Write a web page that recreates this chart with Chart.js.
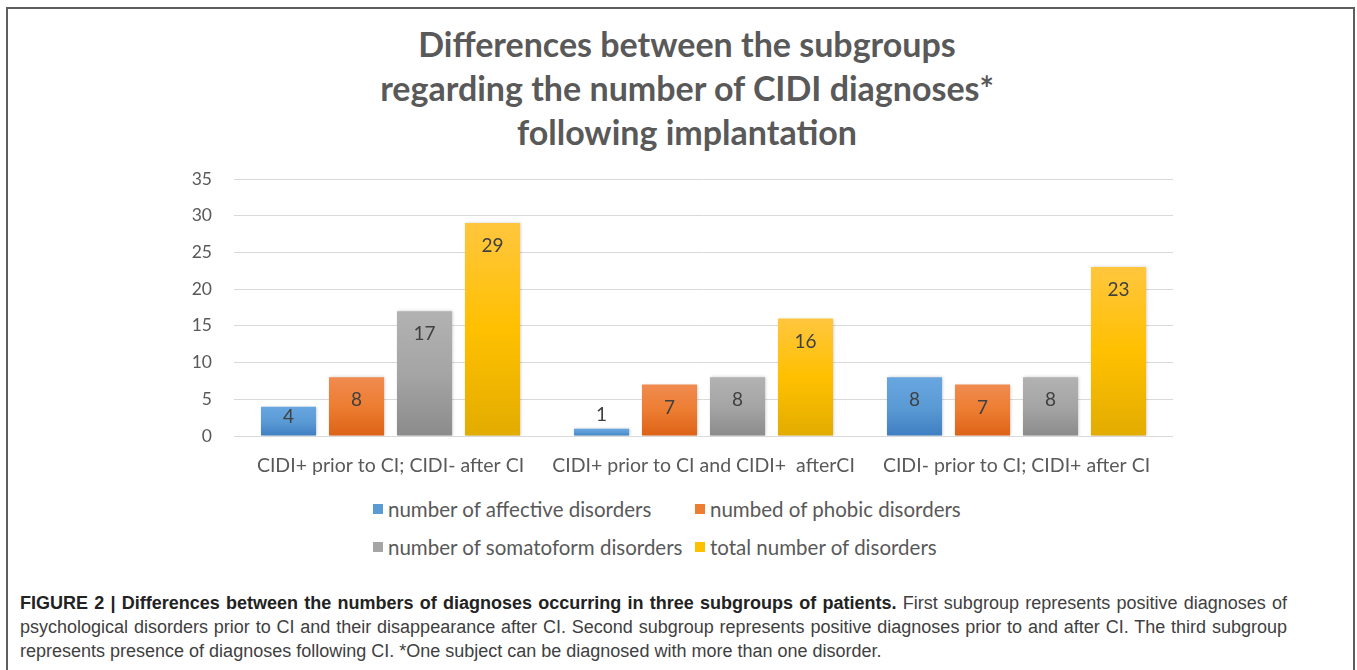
<!DOCTYPE html>
<html><head><meta charset="utf-8">
<script src="https://cdn.jsdelivr.net/npm/chart.js@4/dist/chart.umd.min.js"></script>
<style>
html,body{margin:0;padding:0;background:#fff;}
body{width:1357px;height:670px;position:relative;overflow:hidden;font-family:Lato,sans-serif;}
#frame{position:absolute;left:6px;top:7px;width:1349px;height:700px;border:2px solid #5e5e5e;border-bottom:none;box-sizing:border-box;}
#title{position:absolute;left:187px;top:22px;width:1000px;text-align:center;font-family:Lato,sans-serif;font-weight:bold;font-size:34px;line-height:44px;color:#595959;white-space:nowrap;}
#chartWrap{position:absolute;left:0;top:0;width:1357px;height:490px;}
#legend{position:absolute;left:0;top:0;width:1357px;height:0;font-family:Lato,sans-serif;font-size:20.5px;color:#595959;}
.li{position:absolute;white-space:nowrap;line-height:24px;}
.li i{position:absolute;left:0;top:7px;width:10px;height:10px;}
.li span{position:absolute;left:15px;top:0;}
#caption{position:absolute;left:20px;top:591px;width:1267px;font-family:"Liberation Sans",Arial,sans-serif;font-size:18px;line-height:24px;color:#404040;white-space:nowrap;}
#caption .j{text-align:justify;text-align-last:justify;white-space:normal;}
#caption b{color:#222;}
</style></head>
<body>
<div id="frame"></div>
<div id="title"></div>
<div id="chartWrap"><canvas id="c" width="1357" height="490"></canvas></div>
<div id="legend"></div>
<div id="caption"><div class="j"><b>FIGURE 2 | Differences between the numbers of diagnoses occurring in three subgroups of patients.</b> First subgroup represents positive diagnoses of</div><div class="j">psychological disorders prior to CI and their disappearance after CI. Second subgroup represents positive diagnoses prior to and after CI. The third subgroup</div><div>represents presence of diagnoses following CI. *One subject can be diagnosed with more than one disorder.</div></div>
<script>
const categories = ["CIDI+ prior to CI; CIDI- after CI", "CIDI+ prior to CI and CIDI+  afterCI", "CIDI- prior to CI; CIDI+ after CI"];
const seriesNames = ["number of affective disorders", "numbed of phobic disorders", "number of somatoform disorders", "total number of disorders"];
const affective = [4, 1, 8];
const phobic = [8, 7, 7];
const somatoform = [17, 8, 8];
const total = [29, 16, 23];
const yTicks = [0, 5, 10, 15, 20, 25, 30, 35];
const titleLines = ["Differences between the subgroups", "regarding the number of CIDI diagnoses*", "following implantation"];
const seriesColors = ["#5b9bd5", "#ed7d31", "#a5a5a5", "#ffc000"];
const gradStops = [
  ["#68a6e0", "#5b9bd5", "#3f7fc2"],
  ["#f08b50", "#ed7d31", "#dc6217"],
  ["#b2b2b2", "#a5a5a5", "#8b8b8b"],
  ["#ffc63e", "#ffc000", "#e2ac00"]
];

document.getElementById('title').innerHTML = titleLines.join('<br>');

function barGradient(idx) {
  return function(ctx) {
    const chart = ctx.chart;
    if (!chart.chartArea || ctx.type !== 'data') return seriesColors[idx];
    const ys = chart.scales.y;
    const top = ys.getPixelForValue(ctx.parsed.y);
    const base = ys.getPixelForValue(0);
    if (!(base > top)) return seriesColors[idx];
    const g = chart.ctx.createLinearGradient(0, top, 0, base);
    g.addColorStop(0, gradStops[idx][0]);
    g.addColorStop(0.5, gradStops[idx][1]);
    g.addColorStop(1, gradStops[idx][2]);
    return g;
  };
}

const values = [affective, phobic, somatoform, total];
const datasets = values.map((v, i) => ({
  label: seriesNames[i],
  data: v,
  backgroundColor: barGradient(i),
  borderWidth: 0,
  categoryPercentage: 0.869,
  barPercentage: 0.81
}));

const shadowPlugin = {
  id: 'shadow',
  beforeDatasetsDraw(chart) {
    const c = chart.ctx; c.save();
    c.shadowColor = 'rgba(0,0,0,0.22)'; c.shadowBlur = 3; c.shadowOffsetX = 1; c.shadowOffsetY = 0;
  },
  afterDatasetsDraw(chart) { chart.ctx.restore(); }
};

const labelPlugin = {
  id: 'valueLabels',
  afterDraw(chart) {
    const c = chart.ctx;
    c.save();
    c.font = '19px Lato';
    c.fillStyle = '#404040';
    c.textAlign = 'center';
    c.textBaseline = 'middle';
    chart.data.datasets.forEach((ds, di) => {
      const meta = chart.getDatasetMeta(di);
      meta.data.forEach((el, j) => {
        const h = el.base - el.y;
        let ty;
        if (h > 45) ty = el.y + 23;
        else if (h > 20) ty = el.y + 10;
        else ty = el.y - 14;
        c.fillText(String(ds.data[j]), el.x, ty);
      });
    });
    c.restore();
  }
};

new Chart(document.getElementById('c'), {
  type: 'bar',
  data: { labels: categories, datasets },
  options: {
    responsive: false,
    animation: false,
    layout: { padding: { left: 0, right: 184, top: 179, bottom: 0 } },
    plugins: {
      legend: { display: false },
      tooltip: { enabled: false },
      title: { display: false }
    },
    scales: {
      x: {
        grid: { display: false },
        border: { display: false },
        ticks: { color: '#595959', font: { family: 'Lato', size: 19.5 }, padding: 10, maxRotation: 0, autoSkip: false },
        afterFit(s) { s.height = 54; }
      },
      y: {
        min: 0, max: 35,
        afterBuildTicks(s) { s.ticks = yTicks.map(v => ({ value: v })); },
        grid: { color: '#d9d9d9', lineWidth: 1, drawTicks: false },
        border: { display: false },
        ticks: { color: '#595959', font: { family: 'Lato', size: 17.5 }, padding: 22 },
        afterFit(s) { s.width = 234; }
      }
    }
  },
  plugins: [shadowPlugin, labelPlugin]
});

// HTML legend built from series arrays (two rows, two columns)
const legendPos = [[373, 509], [695, 509], [373, 547], [695, 547]];
const lg = document.getElementById('legend');
seriesNames.forEach((n, i) => {
  const d = document.createElement('div');
  d.className = 'li';
  d.style.left = legendPos[i][0] + 'px';
  d.style.top = (legendPos[i][1] - 12) + 'px';
  d.innerHTML = '<i style="background:' + seriesColors[i] + '"></i><span>' + n + '</span>';
  lg.appendChild(d);
});
</script>
</body></html>
